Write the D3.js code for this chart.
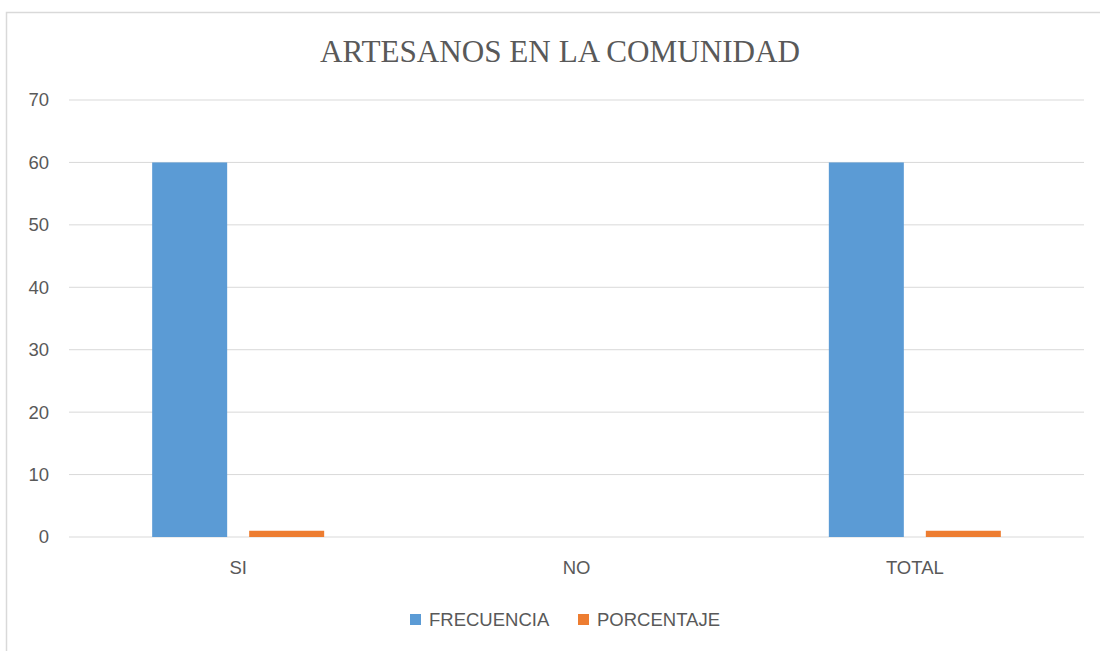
<!DOCTYPE html>
<html><head><meta charset="utf-8">
<script src="https://cdn.jsdelivr.net/npm/d3@7"></script>
<style>body{margin:0;background:#fff}</style>
</head><body>
<svg id="c" width="1100" height="651"></svg>
<script>
const title = "ARTESANOS EN LA COMUNIDAD";
const categories = ["SI", "NO", "TOTAL"];
const seriesNames = ["FRECUENCIA", "PORCENTAJE"];
const frecuencia = [60, 0, 60];
const porcentaje = [1, 0, 1];
const yTicks = [0, 10, 20, 30, 40, 50, 60, 70];
const colors = ["#5B9BD5", "#ED7D31"];

const sans = "'Liberation Sans', Arial, sans-serif";
const svg = d3.select("#c");
// frame
svg.append("rect").attr("x", 6.5).attr("y", 12.5).attr("width", 1110).attr("height", 660)
  .attr("fill", "#fff").attr("stroke", "#d9d9d9").attr("stroke-width", 1.5);

const x0 = 69, x1 = 1084, yTop = 100, yBot = 537;
const x = d3.scaleBand().domain(categories).range([x0, x1]).paddingInner(0).paddingOuter(0);
const y = d3.scaleLinear().domain([0, 70]).range([yBot, yTop]);

// gridlines
svg.append("g").selectAll("line").data(yTicks).join("line")
  .attr("x1", x0).attr("x2", x1).attr("y1", d => y(d)).attr("y2", d => y(d))
  .attr("stroke", "#d9d9d9").attr("stroke-width", 1);

// y axis labels
const yAxis = d3.axisLeft(y).tickValues(yTicks).tickSize(0).tickPadding(0);
const gy = svg.append("g").attr("transform", "translate(49,0)").call(yAxis);
gy.select(".domain").remove();
gy.selectAll("text").attr("font-family", sans)
  .attr("font-size", 18.5).attr("fill", "#595959");

// x axis labels
const xAxis = d3.axisBottom(x).tickSize(0).tickPadding(0);
const gx = svg.append("g").attr("transform", "translate(0,561)").call(xAxis);
gx.select(".domain").remove();
gx.selectAll("text").attr("font-family", sans)
  .attr("font-size", 18.5).attr("fill", "#595959").attr("dy", "0.71em");

// bars
const barW = 75, gap = 22;
const xs = d3.scaleBand().domain(seriesNames).range([0, 2 * barW + gap]).paddingInner(gap / (barW + gap)).paddingOuter(0);
const series = [frecuencia, porcentaje];
series.forEach((vals, si) => {
  svg.append("g").selectAll("rect").data(categories).join("rect")
    .attr("x", (c) => x(c) + x.bandwidth() / 2 - (2 * barW + gap) / 2 + xs(seriesNames[si]))
    .attr("width", xs.bandwidth())
    .attr("y", (c, i) => y(vals[i]))
    .attr("height", (c, i) => y(0) - y(vals[i]))
    .attr("fill", colors[si]);
});

// title
svg.append("text").attr("x", 560).attr("y", 62).attr("text-anchor", "middle")
  .attr("font-family", "'Liberation Serif', 'Times New Roman', serif").attr("font-size", 31)
  .attr("textLength", 480).attr("lengthAdjust", "spacingAndGlyphs")
  .attr("fill", "#595959").text(title);

// legend
const leg = svg.append("g");
const legItems = [{name: seriesNames[0], x: 410}, {name: seriesNames[1], x: 578}];
legItems.forEach((d, i) => {
  leg.append("rect").attr("x", d.x).attr("y", 614).attr("width", 11).attr("height", 11).attr("fill", colors[i]);
  leg.append("text").attr("x", d.x + 19).attr("y", 626)
    .attr("font-family", sans).attr("font-size", 18.5)
    .attr("fill", "#595959").text(d.name);
});
</script>
</body></html>
